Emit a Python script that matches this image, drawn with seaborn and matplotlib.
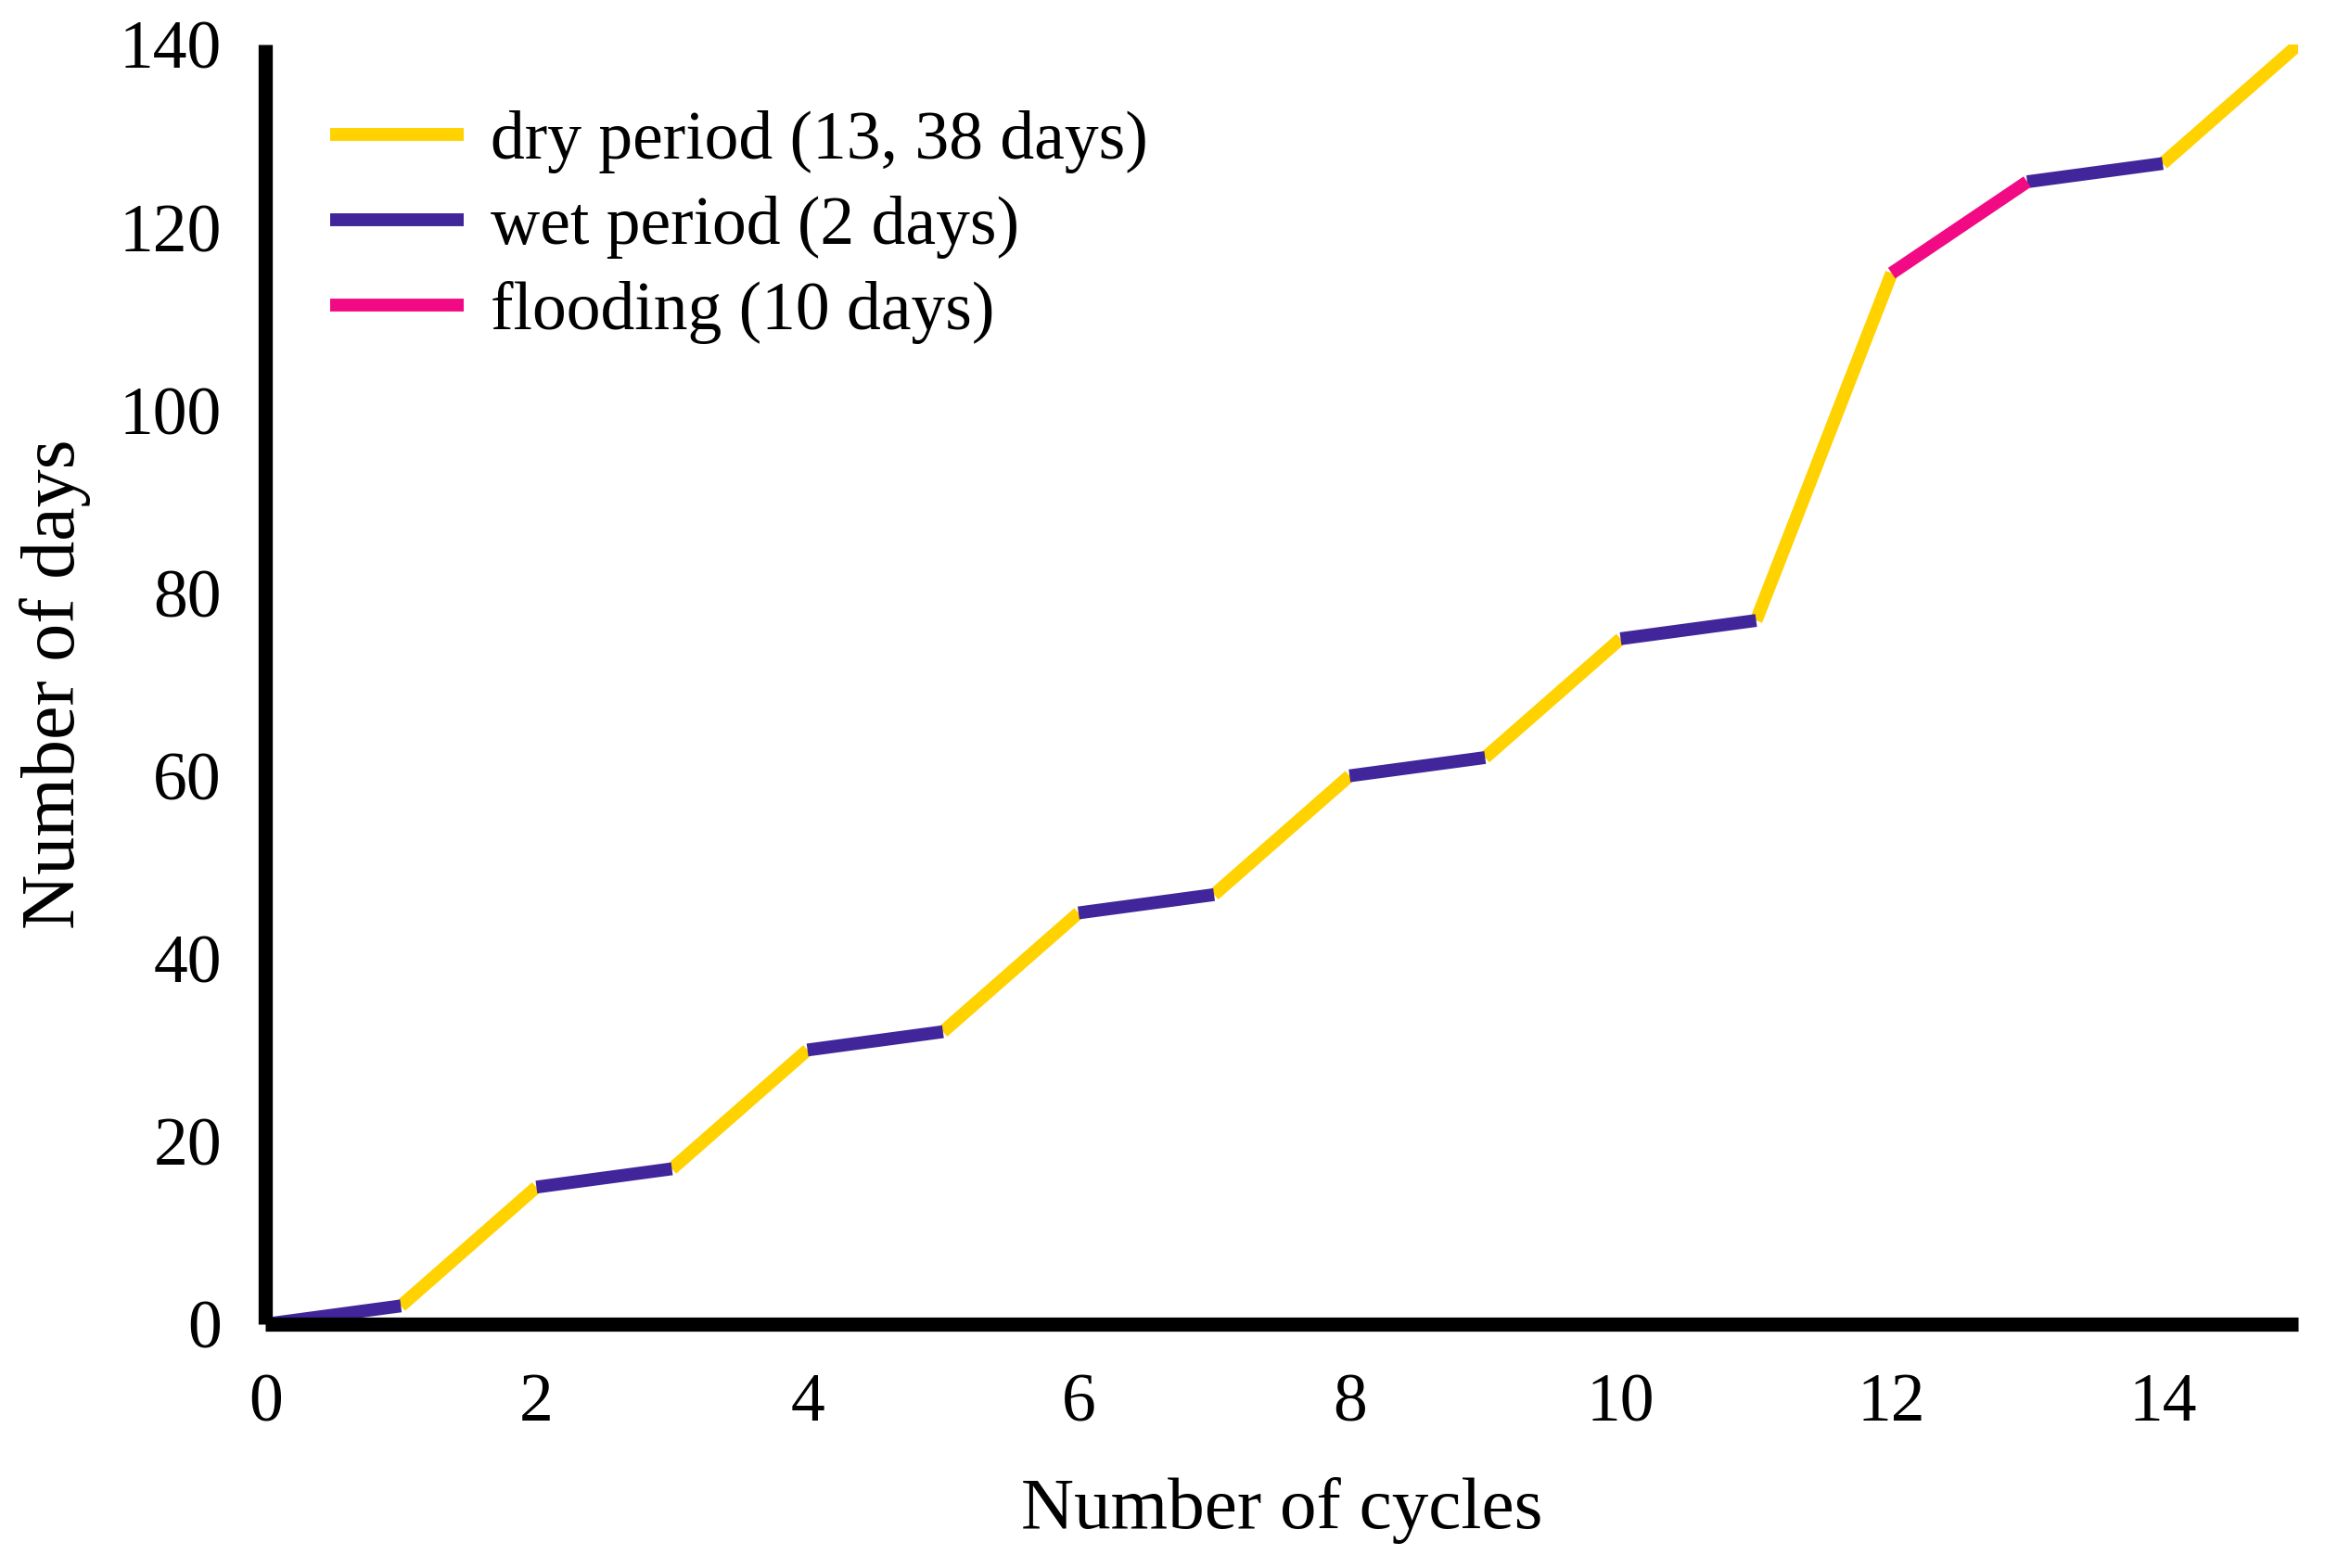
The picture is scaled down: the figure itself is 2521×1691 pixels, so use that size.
"""curva acumulada de dias por ciclo (seco / umido / inundacao)."""

import matplotlib
matplotlib.use("Agg")
import matplotlib.pyplot as plt
import pandas as pd
import seaborn as sns

# dados
cycles = [0, 1, 2, 3, 4, 5, 6, 7, 8, 9, 10, 11, 12, 13, 14, 15]
days = [0, 2, 15, 17, 30, 32, 45, 47, 60, 62, 75, 77, 115, 125, 127, 140]
phases = ["wet", "dry", "wet", "dry", "wet", "dry", "wet", "dry",
          "wet", "dry", "wet", "dry", "flood", "wet", "dry"]

phase_labels = {
    "dry": "dry period (13, 38 days)",
    "wet": "wet period (2 days)",
    "flood": "flooding (10 days)",
}
phase_colors = {
    "dry period (13, 38 days)": "#FFD200",
    "wet period (2 days)": "#40269A",
    "flooding (10 days)": "#F20A84",
}

rows = []
for i, ph in enumerate(phases):
    for j in (i, i + 1):
        rows.append({"seg": i, "cycle": cycles[j], "days": days[j], "phase": phase_labels[ph]})
df = pd.DataFrame(rows)

sns.set_style("white")
plt.rcParams["font.family"] = ["Liberation Serif", "DejaVu Serif"]
plt.rcParams["text.color"] = "black"
plt.rcParams["axes.labelcolor"] = "black"
plt.rcParams["xtick.color"] = "black"
plt.rcParams["ytick.color"] = "black"

fig = plt.figure(figsize=(25.21, 16.91), dpi=100)
ax = fig.add_axes([0.1135, 0.1555, 0.8695, 0.816])

sns.lineplot(
    data=df, x="cycle", y="days", hue="phase", units="seg", estimator=None,
    hue_order=list(phase_colors), palette=phase_colors, linewidth=10,
    solid_capstyle="butt", ax=ax, legend=True,
)

ax.set_xlim(0, 15)
ax.set_ylim(0, 140)
ax.set_xticks(range(0, 15, 2))
ax.set_yticks(range(0, 141, 20))
ax.tick_params(axis="both", length=0, labelsize=53)
ax.tick_params(axis="x", pad=38)
ax.tick_params(axis="y", pad=34)

for side in ("top", "right"):
    ax.spines[side].set_visible(False)
for side in ("left", "bottom"):
    ax.spines[side].set_color("black")
    ax.spines[side].set_linewidth(11)
    ax.spines[side].set_capstyle("butt")

ax.set_xlabel("Number of cycles", fontsize=57, labelpad=32)
ax.set_ylabel("Number of days", fontsize=59, labelpad=22)

handles, labels = ax.get_legend_handles_labels()
for h in handles:
    h.set_linewidth(10)
ax.legend(
    handles, labels, loc="upper left", bbox_to_anchor=(0.032, 0.949),
    frameon=False, fontsize=53, handlelength=1.95, handletextpad=0.4,
    labelspacing=0.33, borderpad=0, borderaxespad=0,
)

fig.savefig("out.png", dpi=100)
plt.close(fig)
